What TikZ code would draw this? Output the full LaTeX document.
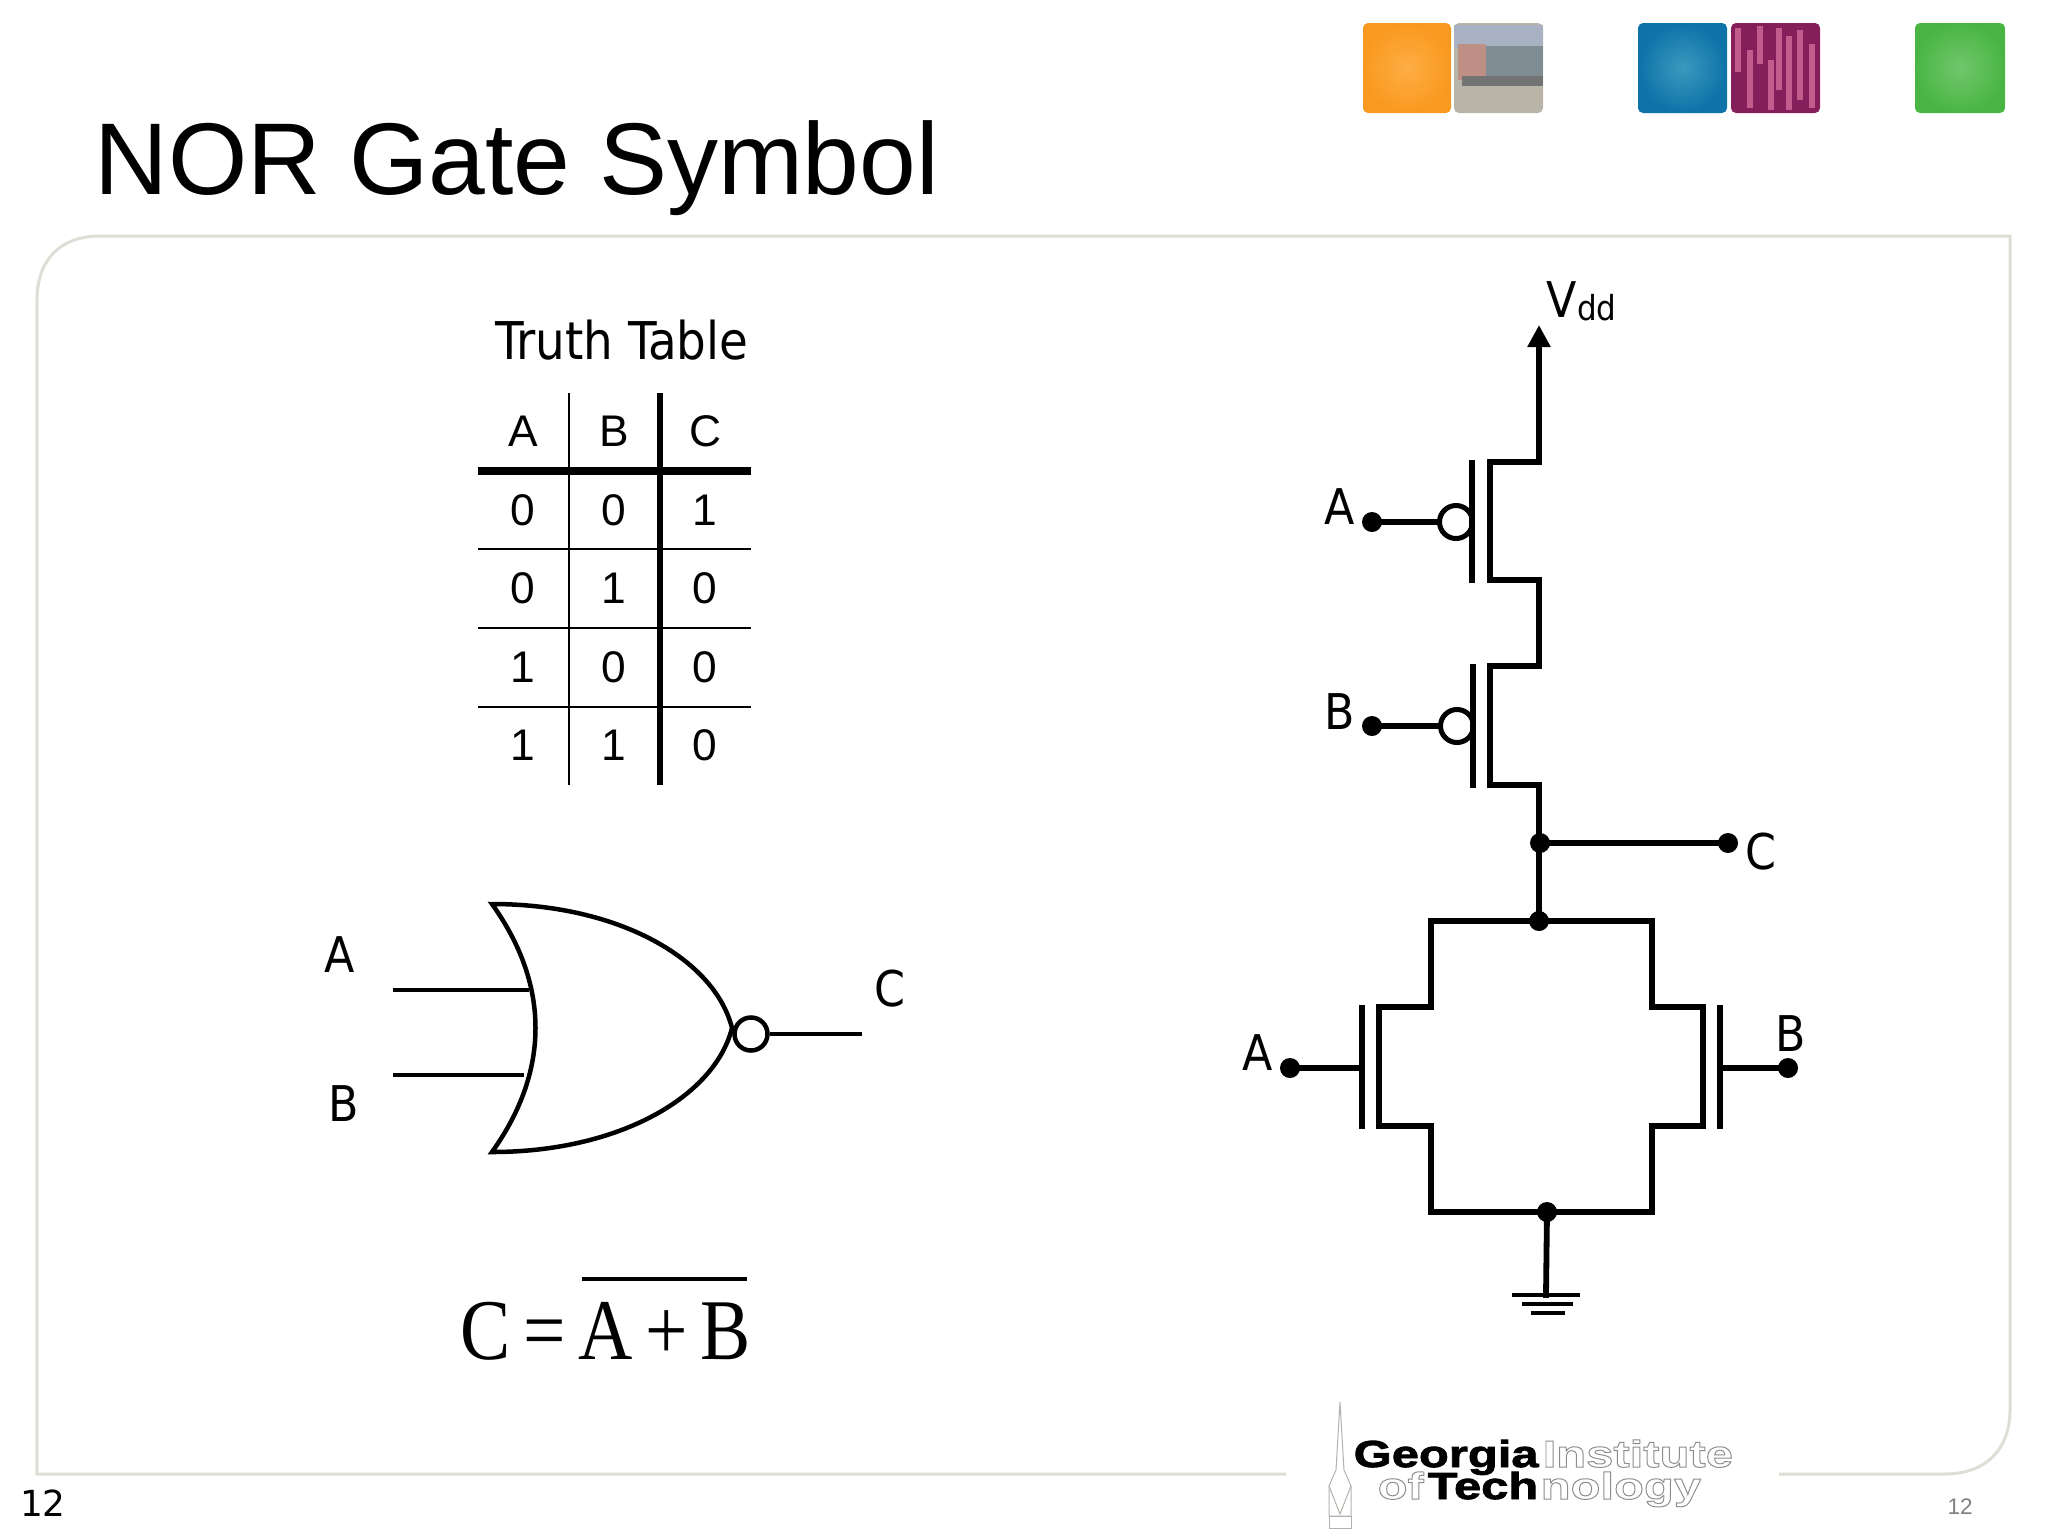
\documentclass[tikz,border=0pt]{standalone}
\usepackage{fontspec}
\usetikzlibrary{arrows.meta}
\setmainfont{Liberation Sans}
\newfontfamily\labelfont{DejaVu Sans Condensed}
\newfontfamily\numfont{DejaVu Sans}
\newfontfamily\eqfont[FakeStretch=0.87]{Liberation Serif}
\newfontfamily\logofont[FakeStretch=1.3]{Liberation Sans Bold}
\newfontfamily\logoheavy[FakeStretch=1.3, FakeBold=2.2]{Liberation Sans Bold}
\newcommand{\outlined}[1]{\special{pdf:code q 1 Tr 0.28 w 0.55 G}#1\special{pdf:code Q}}
\definecolor{mframe}{rgb}{0.87, 0.87, 0.84}
\definecolor{mlogo}{rgb}{0.7, 0.7, 0.68}
\definecolor{morange}{rgb}{0.98, 0.60, 0.12}
\definecolor{morangec}{rgb}{0.99, 0.68, 0.27}
\definecolor{mblue}{rgb}{0.05, 0.45, 0.66}
\definecolor{mbluec}{rgb}{0.23, 0.60, 0.74}
\definecolor{mgreen}{rgb}{0.29, 0.71, 0.27}
\definecolor{mgreenc}{rgb}{0.44, 0.78, 0.42}
\definecolor{mchip}{rgb}{0.52, 0.12, 0.36}
\definecolor{mchipl}{rgb}{0.76, 0.36, 0.55}
\definecolor{mglass}{rgb}{0.50, 0.55, 0.58}
\definecolor{msky}{rgb}{0.66, 0.70, 0.76}
\definecolor{mbrick}{rgb}{0.74, 0.56, 0.52}
\definecolor{mpave}{rgb}{0.72, 0.71, 0.66}
\tikzset{circ/.style = {fill, circle, inner sep = 0, minimum size = 2mm}}
\tikzset{bubble/.style = {draw, fill = white, circle, inner sep = 0, minimum size = 3.3mm}}
\tikzset{wire/.style = {line width = 0.58mm, line cap = rect, line join = miter}}
\tikzset{thinwire/.style = {line width = 0.45mm}}
\tikzset{lab/.style = {inner sep = 0, font = \labelfont\fontsize{14}{16}\selectfont}}
\tikzset{cell/.style = {inner sep = 0, font = \fontsize{12.6}{14}\selectfont}}
\tikzset{logotext/.style = {inner sep = 0, anchor = base west, font = \logofont\fontsize{10.7}{12}\selectfont}}
\tikzset{logoblack/.style = {inner sep = 0, anchor = base west, font = \logoheavy\fontsize{10.7}{12}\selectfont}}
\tikzset{icon/.style = {rounded corners = 0.5mm}}

\begin{document}
\begin{tikzpicture}[x=0.01cm, y=-0.01cm]
    \useasboundingbox (0, 0) rectangle (2048, 1536);

    % frame
    \draw [mframe, line width = 0.3mm] (1286, 1474) -- (37, 1474) -- (37, 300)
      .. controls (37, 260) and (60, 236) .. (100, 236) -- (2010, 236) -- (2010, 1410)
      .. controls (2010, 1450) and (1985, 1474) .. (1945, 1474) -- (1779, 1474);

    % icons
    \shade [icon, inner color = morangec, outer color = morange] (1363, 23) rectangle (1451, 113);
    \fill [icon, mpave] (1454, 23) rectangle (1543, 113);
    \fill [msky] (1454, 25) rectangle (1543, 48);
    \fill [mglass] (1485, 46) rectangle (1543, 80);
    \fill [mbrick] (1458, 44) rectangle (1486, 80);
    \fill [black!55] (1462, 76) rectangle (1543, 86);
    \shade [icon, inner color = mbluec, outer color = mblue] (1638, 23) rectangle (1727, 113);
    \fill [icon, mchip] (1731, 23) rectangle (1820, 113);
    \foreach \xa/\ya/\yb in {1735/28/72, 1747/50/108, 1757/26/64, 1768/60/110, 1776/28/90, 1786/36/110, 1797/30/100, 1809/44/108}
      \fill [mchipl] (\xa, \ya) rectangle ++(6, \yb - \ya);
    \shade [icon, inner color = mgreenc, outer color = mgreen] (1915, 23) rectangle (2005, 113);

    % title
    \node [inner sep = 0, anchor = base west, font = \fontsize{29}{32}\selectfont] (title) at (94, 194) {NOR Gate Symbol};

    % truth table
    \node [lab, font = \labelfont\fontsize{14.8}{17}\selectfont] (tt) at (622, 340) {Truth Table};
    \node [cell] (a0) at (523, 431) {A};
    \node [cell] (b0) at (614, 431) {B};
    \node [cell] (c0) at (705, 431) {C};
    \node [cell] (a1) at (523, 510) {0};
    \node [cell] (b1) at (614, 510) {0};
    \node [cell] (c1) at (705, 510) {1};
    \node [cell] (a2) at (523, 588) {0};
    \node [cell] (b2) at (614, 588) {1};
    \node [cell] (c2) at (705, 588) {0};
    \node [cell] (a3) at (523, 667) {1};
    \node [cell] (b3) at (614, 667) {0};
    \node [cell] (c3) at (705, 667) {0};
    \node [cell] (a4) at (523, 745) {1};
    \node [cell] (b4) at (614, 745) {1};
    \node [cell] (c4) at (705, 745) {0};
    \draw [line width = 0.25mm] (569, 393) -- (569, 785);
    \draw [line width = 0.6mm] (660, 393) -- (660, 785);
    \draw [line width = 0.8mm] (478, 471) -- (751, 471);
    \draw [line width = 0.22mm] (478, 549) -- (751, 549);
    \draw [line width = 0.22mm] (478, 628) -- (751, 628);
    \draw [line width = 0.22mm] (478, 707) -- (751, 707);

    % gate
    \draw [thinwire, line join = miter] (492, 904) .. controls (620, 904) and (715, 960) .. (732, 1028)
      .. controls (715, 1096) and (620, 1152) .. (492, 1152)
      .. controls (550, 1071) and (550, 985) .. (492, 904) -- cycle;
    \node [lab] (ga) at (340, 955) {A};
    \node [lab] (gb) at (344, 1104) {B};
    \node [lab] (gc) at (890, 989) {C};
    \coordinate (gain) at (393, 990);
    \coordinate (gaout) at (529, 990);
    \coordinate (gbin) at (393, 1075);
    \coordinate (gbout) at (524, 1075);
    \coordinate (gcout) at (862, 1034);
    \node [bubble, thinwire] (gbub) at (751, 1034) {};
    \draw [thinwire] (gain) -- (gaout);
    \draw [thinwire] (gbin) -- (gbout);
    \draw [thinwire] (gbub) -- (gcout);

    % equation
    \node [inner sep = 0, anchor = base west, font = \eqfont\fontsize{24.6}{28}\selectfont] (eq) at (460, 1359) {C\hspace{1.25mm}=\hspace{1.25mm}A\hspace{1.25mm}+\hspace{1.25mm}B};
    \coordinate (ola) at (582, 1279);
    \coordinate (olb) at (747, 1279);
    \draw [thinwire] (ola) -- (olb);

    % pull up
    \begin{scope}[shift={(1372, 522)}, name prefix = pa-]
      \node [circ] (g) at (0, 0) {};
      \node [bubble, line width = 0.5mm] (bub) at (84, 0) {};
      \coordinate (s) at (167, -60);
      \coordinate (d) at (167, 58);
      \draw [wire] (g) -- (bub);
      \draw [wire] (100, -59) -- (100, 58);
      \draw [wire] (s) -- (118, -60) -- (118, 58) -- (d);
    \end{scope}

    \begin{scope}[shift={(1372, 726)}, name prefix = pb-]
      \node [circ] (g) at (0, 0) {};
      \node [bubble, line width = 0.5mm] (bub) at (85, 0) {};
      \coordinate (s) at (167, -60);
      \coordinate (d) at (167, 59);
      \draw [wire] (g) -- (bub);
      \draw [wire] (101, -59) -- (101, 59);
      \draw [wire] (s) -- (118, -60) -- (118, 59) -- (d);
    \end{scope}

    % pull down
    \begin{scope}[shift={(1290, 1068)}, name prefix = na-]
      \node [circ] (g) at (0, 0) {};
      \coordinate (s) at (141, -61);
      \coordinate (d) at (141, 58);
      \draw [wire] (g) -- (71, 0);
      \draw [wire] (72, -60) -- (72, 58);
      \draw [wire] (s) -- (89, -61) -- (89, 58) -- (d);
    \end{scope}

    \begin{scope}[shift={(1788, 1068)}, name prefix = nb-]
      \node [circ] (g) at (0, 0) {};
      \coordinate (s) at (-136, -61);
      \coordinate (d) at (-136, 58);
      \draw [wire] (g) -- (-67, 0);
      \draw [wire] (-68, -60) -- (-68, 58);
      \draw [wire] (s) -- (-85, -61) -- (-85, 58) -- (d);
    \end{scope}

    \coordinate (vtip) at (1539, 325);
    \node [circ] (out) at (1540, 843) {};
    \node [circ] (outc) at (1728, 843) {};
    \node [circ] (top) at (1539, 921) {};
    \node [circ] (bot) at (1547, 1212) {};
    \coordinate (gnd) at (1546, 1295);
    \coordinate (gnda) at (1512, 1295);
    \coordinate (gndb) at (1580, 1295);
    \coordinate (gndc) at (1522, 1304);
    \coordinate (gndd) at (1573, 1304);
    \coordinate (gnde) at (1531, 1313);
    \coordinate (gndf) at (1565, 1313);

    \draw [wire, -{Stealth[length = 2.2mm, width = 2.2mm, inset = 0pt]}] (pa-s) -- (vtip);
    \draw [wire] (pa-d) -- (pb-s);
    \draw [wire] (pb-d) -- (top);
    \draw [wire] (out) -- (outc);
    \draw [wire] (na-s) -- (na-s |- top) -- (nb-s |- top) -- (nb-s);
    \draw [wire] (na-d) -- (na-d |- bot) -- (nb-d |- bot) -- (nb-d);
    \draw [wire] (bot) -- (gnd);
    \draw [line width = 0.45mm] (gnda) -- (gndb);
    \draw [line width = 0.45mm] (gndc) -- (gndd);
    \draw [line width = 0.45mm] (gnde) -- (gndf);

    \node [lab] (la) at (1340, 507) {A};
    \node [lab] (lb) at (1340, 712) {B};
    \node [lab] (lc) at (1761, 852) {C};
    \node [lab] (lna) at (1258, 1053) {A};
    \node [lab] (lnb) at (1791, 1034) {B};
    \node [lab, anchor = base west] (vdd) at (1546, 317) {V\raisebox{-0.35mm}{\fontsize{9.8}{10}\selectfont dd}};

    % logo
    \draw [mlogo, line width = 0.1mm] (1340, 1402) -- (1336, 1470) -- (1329, 1486) -- (1329, 1516) -- (1351, 1516) -- (1351, 1486) -- (1344, 1470) -- cycle;
    \draw [mlogo, line width = 0.1mm] (1329, 1486) -- (1340, 1514) -- (1351, 1486);
    \draw [mlogo, line width = 0.1mm] (1329, 1516) rectangle (1351, 1528);
    \node [logoblack] (georgia) at (1353, 1467) {Georgia};
    \node [logotext] (inst) at (1542, 1467) {\outlined{Institute}};
    \node [logotext] (of) at (1377, 1499) {\outlined{of}};
    \node [logoblack] (tech) at (1427, 1499) {Tech};
    \node [logotext] (nology) at (1540, 1499) {\outlined{nology}};

    % page numbers
    \node [inner sep = 0, font = \numfont\fontsize{10.2}{12}\selectfont] (pl) at (43, 1503) {12};
    \node [inner sep = 0, text = gray, font = \fontsize{6.4}{8}\selectfont] (pr) at (1960, 1507) {12};
\end{tikzpicture}
\end{document}
